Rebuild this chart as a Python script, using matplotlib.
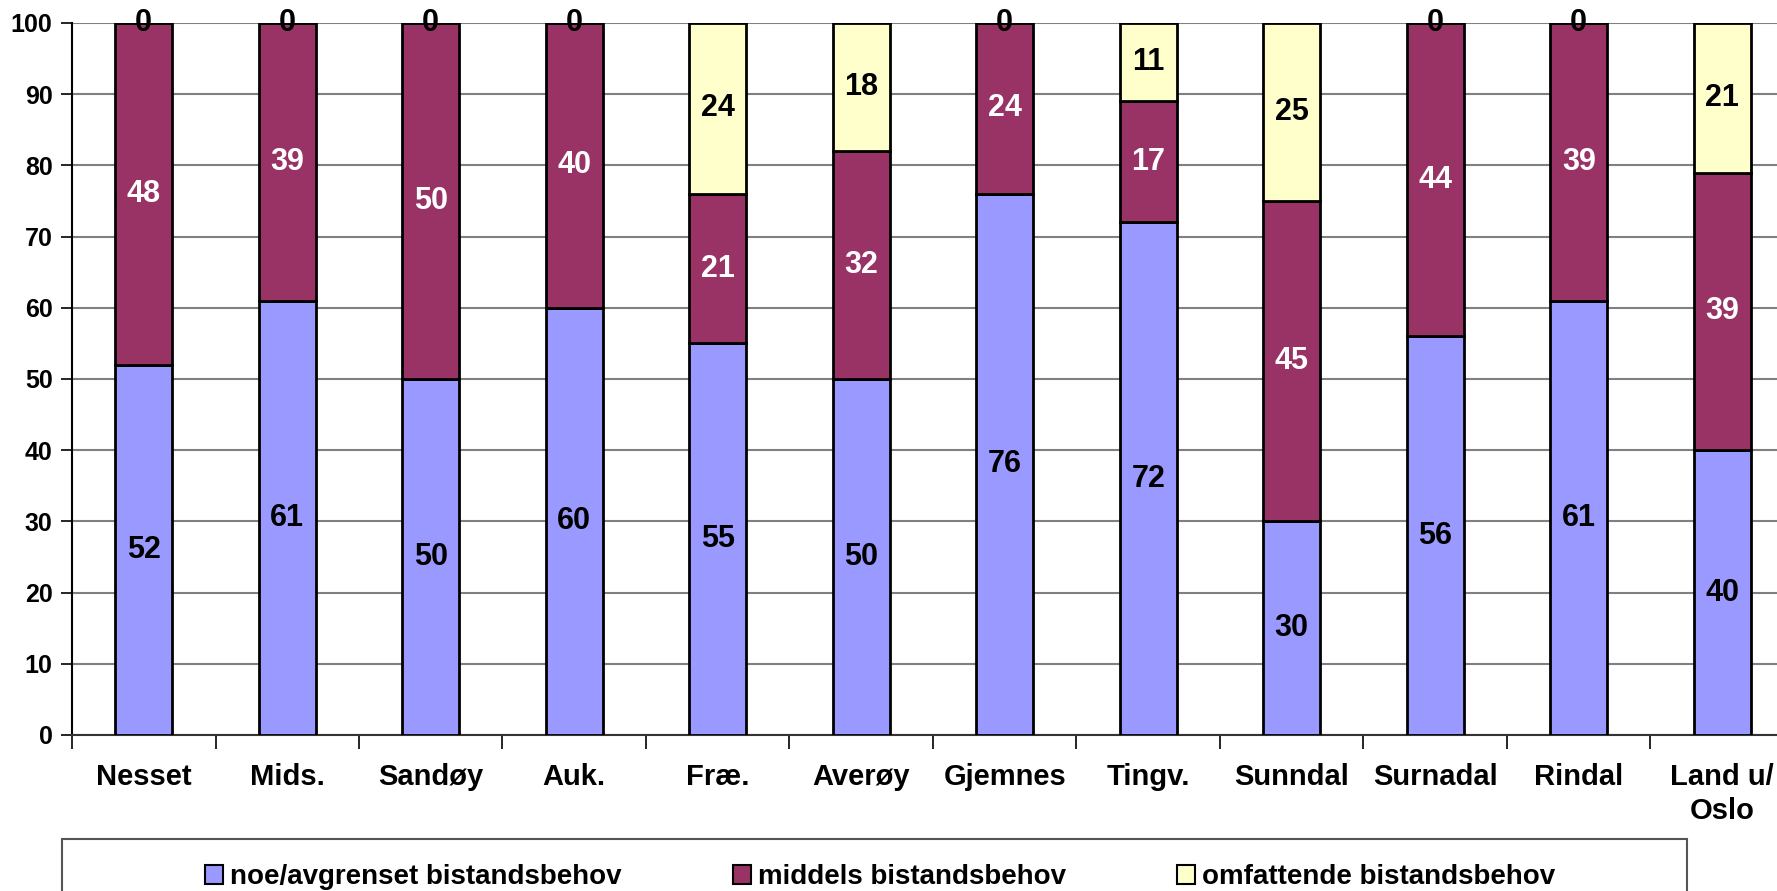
import numpy as np
import matplotlib.pyplot as plt
from matplotlib.patches import Rectangle, Patch

# Data
kommuner = ["Nesset", "Mids.", "Sandøy", "Auk.", "Fræ.", "Averøy", "Gjemnes",
            "Tingv.", "Sunndal", "Surnadal", "Rindal", "Land u/\nOslo"]
noe = [52, 61, 50, 60, 55, 50, 76, 72, 30, 56, 61, 40]
middels = [48, 39, 50, 40, 21, 32, 24, 17, 45, 44, 39, 39]
omfattende = [0, 0, 0, 0, 24, 18, 0, 11, 25, 0, 0, 21]
serier = ["noe/avgrenset bistandsbehov", "middels bistandsbehov", "omfattende bistandsbehov"]
farger = ["#9999FF", "#993366", "#FFFFCC"]
tekstfarger = ["black", "white", "black"]

plt.rcParams["font.family"] = ["Liberation Sans Narrow", "Liberation Sans", "DejaVu Sans"]
plt.rcParams["font.weight"] = "bold"

W, H = 1777, 891
fig = plt.figure(figsize=(W / 100, H / 100), dpi=100)
ax = fig.add_axes([72 / W, 1 - 735 / H, 1722 / W, 712 / H])

x = np.arange(len(kommuner))
bottom = np.zeros(len(kommuner))
for verdier, farge, tfarge in zip([noe, middels, omfattende], farger, tekstfarger):
    verdier = np.array(verdier, dtype=float)
    ax.bar(x, verdier, 0.4, bottom=bottom, color=farge, edgecolor="black",
           linewidth=2, zorder=3)
    for xi, b, v in zip(x, bottom, verdier):
        farge_tekst = "black" if v == 0 else tfarge
        ax.text(xi, b + v / 2, f"{v:.0f}", ha="center", va="center", fontsize=22,
                fontweight="bold", color=farge_tekst, zorder=4)
    bottom = bottom + verdier

ax.set_xlim(-0.5, len(kommuner) - 0.5)
ax.set_ylim(0, 100)
ax.set_yticks(np.arange(0, 101, 10))
ax.tick_params(axis="y", labelsize=18, length=8, width=1.2, pad=6)
ax.set_xticks(x)
ax.set_xticklabels(kommuner, fontsize=21, fontweight="bold", linespacing=1.3)
ax.set_xticks(np.arange(-0.5, len(kommuner), 1), minor=True)
ax.tick_params(axis="x", which="major", length=0, pad=20)
ax.tick_params(axis="x", which="minor", length=10, width=1.2)
for lab in ax.get_yticklabels():
    lab.set_fontweight("bold")

ax.yaxis.grid(True, color="#808080", linewidth=1.5, zorder=0)
ax.set_axisbelow(True)
for side in ["top", "right"]:
    ax.spines[side].set_visible(False)
ax.spines["left"].set_linewidth(1.5)
ax.spines["bottom"].set_linewidth(1.5)
ax.spines["bottom"].set_color("#333333")

# Legend frame and entries
fig.patches.append(Rectangle((62 / W, -0.05), (1687 - 62) / W, 0.05 + (1 - 839 / H),
                             transform=fig.transFigure, fill=False,
                             edgecolor="#555555", linewidth=1.5))
handles = [Patch(facecolor=f, edgecolor="black", linewidth=1.5) for f in farger]
fig.legend(handles, serier, loc="center", bbox_to_anchor=(880 / W, 1 - 877 / H),
           ncol=3, frameon=False, handlelength=0.65, handleheight=0.65,
           handletextpad=0.25, columnspacing=4.0, prop={"weight": "bold", "size": 20})

fig.savefig("out.png", dpi=100)
